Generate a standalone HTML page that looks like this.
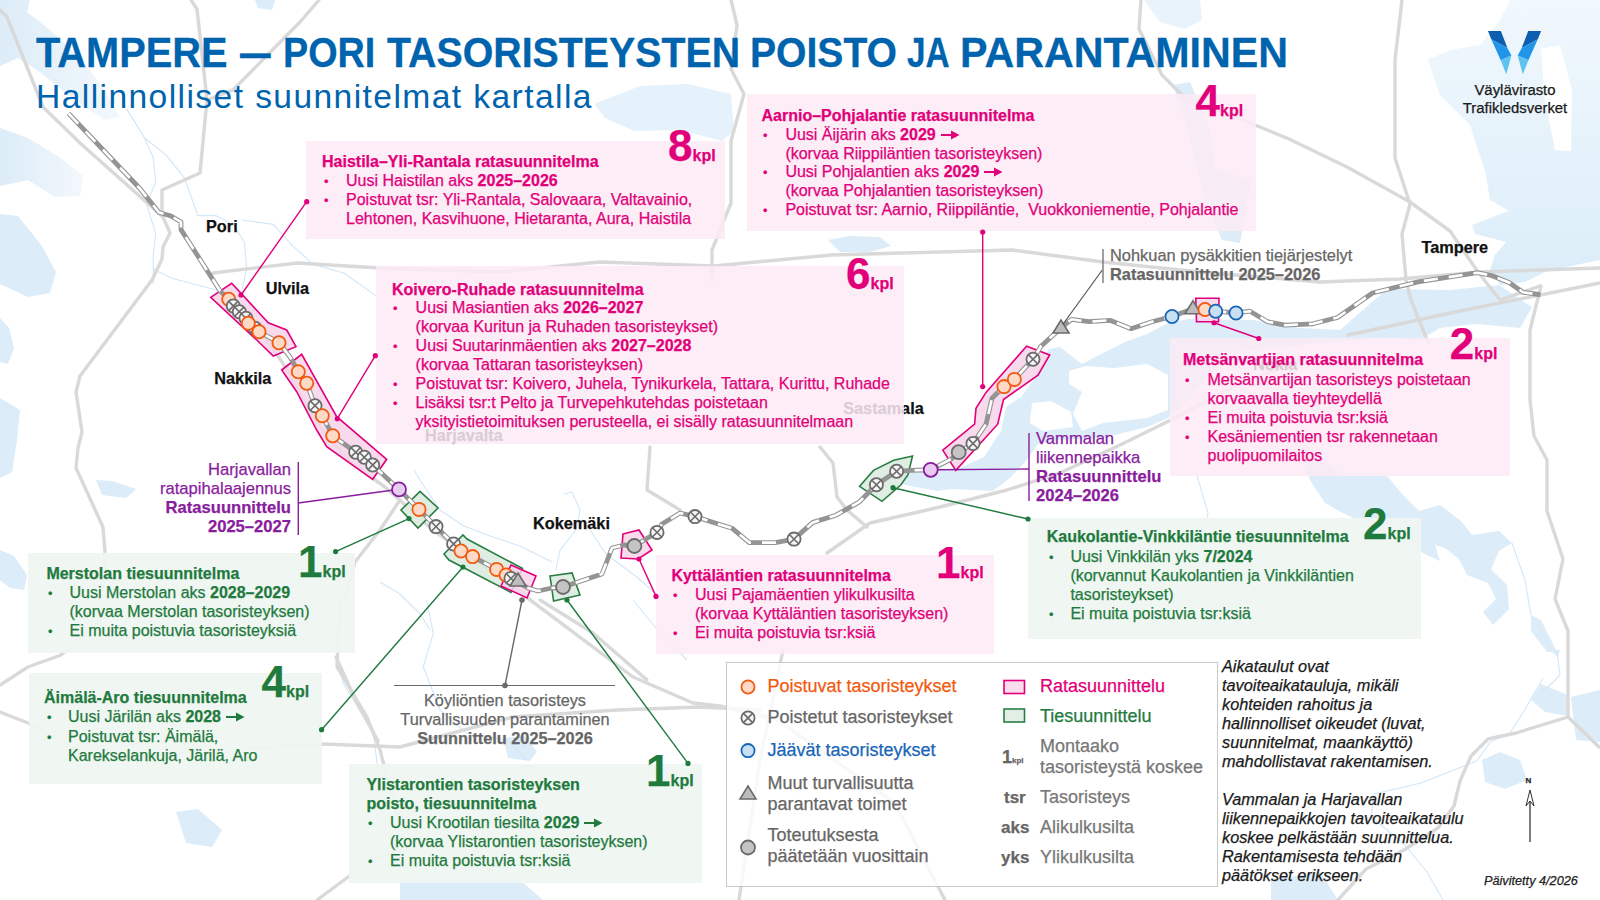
<!DOCTYPE html>
<html><head><meta charset="utf-8">
<style>
html,body{margin:0;padding:0;}
body{width:1600px;height:900px;position:relative;overflow:hidden;background:#fff;font-family:"Liberation Sans",sans-serif;}
svg.map{position:absolute;left:0;top:0;}
.t{position:absolute;white-space:nowrap;-webkit-text-stroke:0.25px currentColor;}
.box{position:absolute;}
.pk{background:rgba(251,234,245,0.86);}
.gr{background:rgba(239,245,241,0.93);}
b{font-weight:700;}
</style></head><body>
<svg class="map" width="1600" height="900" viewBox="0 0 1600 900">
<defs><linearGradient id="sea" x1="0" y1="0" x2="1" y2="0"><stop offset="0" stop-color="#dcecf8"/><stop offset="1" stop-color="#f3f8fc"/></linearGradient><linearGradient id="nasi" x1="0" y1="0" x2="0" y2="1"><stop offset="0" stop-color="#f1f8fd"/><stop offset="1" stop-color="#dbedf9"/></linearGradient></defs>
<path d="M0,0 L30,0 L27,12 L50,30 L80,58 L103,88 L120,117 L105,120 L72,98 L40,72 L18,58 L0,66 Z" fill="url(#sea)"/>
<path d="M0,128 L28,138 L58,156 L83,176 L80,196 L55,197 L28,180 L0,186 Z" fill="url(#sea)"/>
<path d="M0,214 L18,216 L42,246 L56,272 L50,293 L28,297 L0,284 Z" fill="#dcedf9"/>
<path d="M0,318 L9,328 L14,348 L8,364 L0,362 Z" fill="#dcedf9"/>
<path d="M0,398 L20,410 L17,440 L12,472 L0,478 Z" fill="#dcedf9"/>
<path d="M0,550 L14,556 L27,575 L24,590 L10,588 L0,580 Z" fill="#dcedf9"/>
<path d="M96,480 L112,481 L136,489 L126,498 L102,495 Z" fill="#dcedf9"/>
<path d="M255,0 L275,0 L272,10 L258,8 Z" fill="#dcedf9"/>
<path d="M594,104 L640,86 L688,84 L731,94 L734,131 L722,141 L680,130 L634,131 L605,118 Z" fill="#e6f2fb"/>
<path d="M828,240 L850,236 L880,237 L891,246 L870,252 L840,252 Z" fill="#dcedf9"/>
<path d="M1144,0 L1200,0 L1202,20 L1185,29 L1160,22 Z" fill="#e8f3fb"/>
<path d="M1173,85 L1190,82 L1198,101 L1210,130 L1215,170 L1235,175 L1251,180 L1245,215 L1240,243 L1222,240 L1205,200 L1195,160 L1185,120 Z" fill="#dcedf9"/>
<path d="M1430,58 L1440,60 L1450,80 L1446,87 L1434,75 Z" fill="#dcedf9"/>
<path d="M1510,0 L1600,0 L1600,260 L1547,271 L1525,282 L1500,285 L1490,270 L1495,255 L1506,242 L1475,234 L1472,225 L1498,215 L1509,211 L1490,200 L1485,170 L1481,159 L1470,125 L1440,95 L1428,60 L1450,50 L1480,45 L1500,20 Z" fill="url(#nasi)"/>
<path d="M1541,49 L1560,45 L1572,90 L1571,151 L1555,150 L1545,100 Z" fill="#ffffff"/>
<path d="M930,470 L956,470 L984,457 L1001,431 L1006,407 L1021,397 L1034,379 L1049,349 L1060,347 L1082,364 L1103,353 L1125,342 L1147,334 L1168,323 L1188,319 L1253,320 L1300,328 L1340,330 L1387,289 L1450,290 L1499,285 L1532,307 L1520,328 L1476,324 L1440,328 L1420,340 L1380,338 L1300,345 L1230,352 L1188,400 L1168,418 L1147,427 L1103,438 L1060,440 L1038,444 L1025,462 L1010,478 L993,491 L953,489 L937,491 L930,484 Z" fill="#dcedf9"/>
<path d="M898,470 L935,465 L937,491 L900,484 Z" fill="#dcedf9"/>
<path d="M1069,371 L1086,366 L1114,368 L1147,364 L1168,375 L1168,410 L1147,418 L1103,423 L1082,431 L1073,414 L1082,392 L1069,384 Z" fill="#ffffff"/>
<path d="M1032,403 L1051,401 L1071,412 L1073,427 L1043,431 L1030,423 Z" fill="#ffffff"/>
<path d="M1290,430 L1344,476 L1387,476 L1403,495 L1419,511 L1440,505 L1461,521 L1472,535 L1499,531 L1512,543 L1499,551 L1491,569 L1507,585 L1509,609 L1493,625 L1483,612 L1496,599 L1488,583 L1467,575 L1459,559 L1445,548 L1435,545 L1440,561 L1429,556 L1419,551 L1397,540 L1373,535 L1360,521 L1339,511 L1325,503 L1310,480 Z" fill="#dcedf9"/>
<path d="M1531,615 L1541,620 L1557,652 L1547,652 L1531,631 Z" fill="#dcedf9"/>
<path d="M1531,700 L1541,684 L1568,695 L1568,716 L1545,712 Z" fill="#dcedf9"/>
<path d="M1549,650 L1560,650 L1558,657 Z" fill="#dcedf9"/>
<path d="M1571,697 L1600,690 L1600,742 L1576,740 Z" fill="#dcedf9"/>
<path d="M1482,760 L1500,752 L1520,760 L1527,780 L1505,789 L1485,782 Z" fill="#dcedf9"/>
<path d="M1271,880 L1320,872 L1338,900 L1271,900 Z" fill="#dcedf9"/>
<path d="M400,880 L450,874 L520,880 L543,900 L400,900 Z" fill="#dcedf9"/>
<path d="M503,738 L525,736 L537,752 L530,761 L508,758 Z" fill="#dcedf9"/>
<path d="M176,812 L198,809 L222,830 L212,847 L186,843 Z" fill="#dcedf9"/>
<path d="M126.7,108.9 L144.4,137.8 L153.3,157.8 L155.6,182.2 L146.7,204.4 L155.6,233.3 L153.3,255.6 L153.3,284.4" fill="none" stroke="#d0e7f8" stroke-width="1.1" stroke-linejoin="round"/>
<path d="M144.4,137.8 L166.7,155.6 L184.4,177.8 L197.8,215.6 L215.6,215.6 L233.3,224.4 L244.4,242.2 L246.7,268.9 L242.2,288.9" fill="none" stroke="#d0e7f8" stroke-width="1.1" stroke-linejoin="round"/>
<path d="M242.2,220 L273.3,224.4 L291.1,244.4 L313.3,264.4 L344.4,273.3 L375.6,295.6" fill="none" stroke="#d0e7f8" stroke-width="1.1" stroke-linejoin="round"/>
<path d="M153,269 L171,278 L220,291" fill="none" stroke="#d0e7f8" stroke-width="1.1" stroke-linejoin="round"/>
<path d="M414,470 L420,480 L440,510 L464,526 L490,536 L520,546 L552,562" fill="none" stroke="#d0e7f8" stroke-width="1.1" stroke-linejoin="round"/>
<path d="M564,494 L572,492 L580,510 L576,530 L560,550 L556,570" fill="none" stroke="#d0e7f8" stroke-width="1.1" stroke-linejoin="round"/>
<path d="M590,530 L606,554 L638,578 L656,594" fill="none" stroke="#d0e7f8" stroke-width="1.1" stroke-linejoin="round"/>
<path d="M380,582 L400,594 L420,614 L430,630" fill="none" stroke="#d0e7f8" stroke-width="1.1" stroke-linejoin="round"/>
<path d="M426.7,600 L433.3,633.3 L423.3,666.7 L440,710 L466.7,733.3 L506.7,740 L526.7,760" fill="none" stroke="#d0e7f8" stroke-width="1.1" stroke-linejoin="round"/>
<path d="M336.7,656.7 L343.3,683.3 L373.3,733.3 L380,786.7 L366.7,833.3" fill="none" stroke="#d0e7f8" stroke-width="1.1" stroke-linejoin="round"/>
<path d="M633,600 L660,633 L687,660" fill="none" stroke="#d0e7f8" stroke-width="1.1" stroke-linejoin="round"/>
<path d="M1543,678 L1524,711 L1510,733 L1490.6,741.7 L1476.7,761 L1421,783 L1374,794 L1371,817 L1404,844 L1427,872 L1443,900" fill="none" stroke="#d0e7f8" stroke-width="1.1" stroke-linejoin="round"/>
<path d="M1196,472 L1208,513 L1202,553" fill="none" stroke="#d0e7f8" stroke-width="1.1" stroke-linejoin="round"/>
<path d="M1512,543 L1525,580 L1531,615" fill="none" stroke="#d0e7f8" stroke-width="1.1" stroke-linejoin="round"/>
<path d="M1557,652 L1560,675 L1545,690" fill="none" stroke="#d0e7f8" stroke-width="1.1" stroke-linejoin="round"/>
<path d="M0,10 L7,17 L43,107 L80,143 L163,217 L170,233 L163,247 L162,259 L152,280 L80,376 L76,392 L82,432 L78,448 L76,468 L103,527 L105,552 L100,620 L61,655 L28,667 L0,685" fill="none" stroke="#d9d9d9" stroke-width="3.4" stroke-linejoin="round" stroke-linecap="round"/>
<path d="M162,215 L162,190 L200,173 L207,100 L197,9 L191,0" fill="none" stroke="#d9d9d9" stroke-width="3.4" stroke-linejoin="round" stroke-linecap="round"/>
<path d="M319,0 L300,22 L233,90 L207,100" fill="none" stroke="#d9d9d9" stroke-width="3.4" stroke-linejoin="round" stroke-linecap="round"/>
<path d="M0,712 L28,723 L93,760 L200,751 L322,744 L400,747 L513,717 L617,710 L700,707 L760,710" fill="none" stroke="#d9d9d9" stroke-width="3.4" stroke-linejoin="round" stroke-linecap="round"/>
<path d="M340,600 L337,667 L367,717 L380,750 L393,800 L400,830" fill="none" stroke="#d9d9d9" stroke-width="3.4" stroke-linejoin="round" stroke-linecap="round"/>
<path d="M317,900 L367,863 L400,850" fill="none" stroke="#d9d9d9" stroke-width="3.4" stroke-linejoin="round" stroke-linecap="round"/>
<path d="M336,657 L355,699 L378,741" fill="none" stroke="#d9d9d9" stroke-width="3.4" stroke-linejoin="round" stroke-linecap="round"/>
<path d="M400,500 L380,530 L355,562 L345,600" fill="none" stroke="#d9d9d9" stroke-width="3.4" stroke-linejoin="round" stroke-linecap="round"/>
<path d="M213,273 L297,263 L380,268 L500,272 L600,262 L714,266 L831,255 L1012,250 L1103,262 L1200,272 L1320,282 L1400,279 L1480,272 L1600,268" fill="none" stroke="#d9d9d9" stroke-width="3.4" stroke-linejoin="round" stroke-linecap="round"/>
<path d="M712,280 L712,250 L731,203 L731,141 L744,94 L731,69 L737,25 L731,0" fill="none" stroke="#d9d9d9" stroke-width="3.4" stroke-linejoin="round" stroke-linecap="round"/>
<path d="M263,335 L282,362 L318,425 L350,462 L385,487 L433,530 L525,596 L633,677 L693,703 L720,706 L776,719 L895,803 L945,900" fill="none" stroke="#d9d9d9" stroke-width="3.4" stroke-linejoin="round" stroke-linecap="round"/>
<path d="M783,650 L760,760 L739,900" fill="none" stroke="#d9d9d9" stroke-width="3.4" stroke-linejoin="round" stroke-linecap="round"/>
<path d="M820,447 L833,463 L837,497 L847,510 L867,527" fill="none" stroke="#d9d9d9" stroke-width="3.4" stroke-linejoin="round" stroke-linecap="round"/>
<path d="M827,553 L870,523 L940,507 L1007,490 L1060,473 L1120,445 L1173,419 L1231,388 L1300,360" fill="none" stroke="#d9d9d9" stroke-width="3.4" stroke-linejoin="round" stroke-linecap="round"/>
<path d="M540,600 L593,633 L647,680" fill="none" stroke="#d9d9d9" stroke-width="3.4" stroke-linejoin="round" stroke-linecap="round"/>
<path d="M650,447 L647,490 L680,510" fill="none" stroke="#d9d9d9" stroke-width="3.4" stroke-linejoin="round" stroke-linecap="round"/>
<path d="M1141,0 L1139,29 L1162,75 L1185,98 L1231,115 L1289,139 L1347,167 L1410,202 L1450,231 L1478,272 L1500,300" fill="none" stroke="#d9d9d9" stroke-width="3.4" stroke-linejoin="round" stroke-linecap="round"/>
<path d="M1402,0 L1395,60 L1395,158 L1410,204 L1402,234 L1406,280 L1411,300 L1428,342" fill="none" stroke="#d9d9d9" stroke-width="3.4" stroke-linejoin="round" stroke-linecap="round"/>
<path d="M1348,335 L1460,311 L1600,283" fill="none" stroke="#d9d9d9" stroke-width="3.4" stroke-linejoin="round" stroke-linecap="round"/>
<path d="M1541,286 L1530,330 L1530,400 L1534,436 L1547,460 L1547,511 L1563,559 L1555,599 L1568,631 L1568,717 L1599,747" fill="none" stroke="#d9d9d9" stroke-width="3.4" stroke-linejoin="round" stroke-linecap="round"/>
<path d="M1568,717 L1516,733 L1488,739 L1471,756 L1460,781 L1454,806 L1438,828 L1404,850 L1366,869 L1338,900" fill="none" stroke="#d9d9d9" stroke-width="3.4" stroke-linejoin="round" stroke-linecap="round"/>
<path d="M1500,300 L1540,286" fill="none" stroke="#d9d9d9" stroke-width="3.4" stroke-linejoin="round" stroke-linecap="round"/>
<polygon points="401,510 420,491.4 438,508 418,528" fill="#dcebdf" fill-opacity="0.9" stroke="#2a7d43" stroke-width="1.6"/>
<polygon points="444,554 463,535 467,539 522.4,568.4 511,592.4 449,560" fill="#dcebdf" fill-opacity="0.9" stroke="#2a7d43" stroke-width="1.6"/>
<polygon points="550,576 572,573 580,595 553.6,601" fill="#dcebdf" fill-opacity="0.9" stroke="#2a7d43" stroke-width="1.6"/>
<polygon points="859.6,486.3 873.5,470.4 893.7,460.3 912.5,456 908,474.7 901,484.8 882,501.3" fill="#dcebdf" fill-opacity="0.9" stroke="#2a7d43" stroke-width="1.6"/>
<polygon points="210.7,297.3 231.7,283.3 268.3,322.7 286.7,330 296,346.7 273.3,356 256.7,340" fill="#f7d3ea" fill-opacity="0.85" stroke="#e2007a" stroke-width="1.6"/>
<polygon points="281.7,370 301.7,354.3 336.7,416.7 386.7,459.3 372.7,479.3 326.7,446.7 316.7,430 296.7,391.7" fill="#f7d3ea" fill-opacity="0.85" stroke="#e2007a" stroke-width="1.6"/>
<polygon points="511,565 536,576 527,598 501,586" fill="#f7d3ea" fill-opacity="0.85" stroke="#e2007a" stroke-width="1.6"/>
<polygon points="623,534 639,530 652,550 638,559 621,558" fill="#f7d3ea" fill-opacity="0.85" stroke="#e2007a" stroke-width="1.6"/>
<polygon points="942.8,450.2 974.6,424.2 976,408.3 986,392.4 1026.6,346.2 1049.7,354.9 1038,375.1 1003.5,399.6 997.7,424.2 955.8,470.4" fill="#f7d3ea" fill-opacity="0.85" stroke="#e2007a" stroke-width="1.6"/>
<polygon points="1195.8,298.3 1219,298.3 1218.5,321.7 1196.5,321.7" fill="#f7d3ea" fill-opacity="0.85" stroke="#e2007a" stroke-width="1.6"/>
<path d="M68.5,113.4 L139.4,188 L159,212.5 L171,216 L181,222 L181,229.6 L220,290.7 L228.7,299.3 L233.3,306 L239.3,311.7 L246,318.3 L255,328.3 L259,331.7 L279,342.7 L290,357 L298.3,371.7 L306.7,383.3 L315,405.7 L322.3,415.7 L332.7,435.7 L355.7,452.3 L364.3,457.3 L372.7,465 L399,489.4 L419,509.4 L436,526.6 L453.6,544 L461,551 L472.6,556.6 L496.6,569.4 L506,575 L511,578.4 L528,588 L538,591 L552,588 L563,587 L602,574 L612,548 L624,545 L634.4,546 L657,532.4 L662,524 L680,513 L695,516.6 L717.5,523.8 L732,528.2 L749.3,542.6 L775.3,542.6 L794,539.1 L812.9,522.4 L836,515.2 L859,502.2 L876.4,484.8 L896.6,471.3 L911,470.4 L930.7,469.8 L951.5,458.8 L958.7,452.2 L973,443.5 L986,424.2 L992,398.2 L1004,386.6 L1014.4,379.4 L1033,359.2 L1041,346.2 L1061,328 L1071.5,319.3 L1089,321.7 L1110,320.3 L1131,328.7 L1152,321.7 L1172,316.5 L1193,308.75 L1205,309.5 L1215.7,311.2 L1236,313 L1250,311.2 L1267.5,321.7 L1285,325.2 L1313,323.8 L1337.5,317.5 L1372.5,293 L1418,281.8 L1477.5,272.7 L1491.5,275.5 L1509,282.5 L1523,292.3 L1540.5,294.75" fill="none" stroke="#949494" stroke-width="4.8" stroke-linejoin="round"/>
<path d="M68.5,113.4 L139.4,188 L159,212.5 L171,216 L181,222 L181,229.6 L220,290.7 L228.7,299.3 L233.3,306 L239.3,311.7 L246,318.3 L255,328.3 L259,331.7 L279,342.7 L290,357 L298.3,371.7 L306.7,383.3 L315,405.7 L322.3,415.7 L332.7,435.7 L355.7,452.3 L364.3,457.3 L372.7,465 L399,489.4 L419,509.4 L436,526.6 L453.6,544 L461,551 L472.6,556.6 L496.6,569.4 L506,575 L511,578.4 L528,588 L538,591 L552,588 L563,587 L602,574 L612,548 L624,545 L634.4,546 L657,532.4 L662,524 L680,513 L695,516.6 L717.5,523.8 L732,528.2 L749.3,542.6 L775.3,542.6 L794,539.1 L812.9,522.4 L836,515.2 L859,502.2 L876.4,484.8 L896.6,471.3 L911,470.4 L930.7,469.8 L951.5,458.8 L958.7,452.2 L973,443.5 L986,424.2 L992,398.2 L1004,386.6 L1014.4,379.4 L1033,359.2 L1041,346.2 L1061,328 L1071.5,319.3 L1089,321.7 L1110,320.3 L1131,328.7 L1152,321.7 L1172,316.5 L1193,308.75 L1205,309.5 L1215.7,311.2 L1236,313 L1250,311.2 L1267.5,321.7 L1285,325.2 L1313,323.8 L1337.5,317.5 L1372.5,293 L1418,281.8 L1477.5,272.7 L1491.5,275.5 L1509,282.5 L1523,292.3 L1540.5,294.75" fill="none" stroke="#ffffff" stroke-width="2.6" stroke-dasharray="14 11" stroke-linejoin="round"/>
<circle cx="228.7" cy="299.3" r="6.6" fill="#fdd9c6" stroke="#f25a0f" stroke-width="1.8"/>
<circle cx="233.3" cy="306" r="6.6" fill="#f6f6f6" stroke="#6b6b6b" stroke-width="1.8"/>
<path d="M228.70000000000002,301.4 L237.9,310.6 M237.9,301.4 L228.70000000000002,310.6" stroke="#6b6b6b" stroke-width="1.6"/>
<circle cx="239.3" cy="311.7" r="6.6" fill="#f6f6f6" stroke="#6b6b6b" stroke-width="1.8"/>
<path d="M234.70000000000002,307.09999999999997 L243.9,316.3 M243.9,307.09999999999997 L234.70000000000002,316.3" stroke="#6b6b6b" stroke-width="1.6"/>
<circle cx="246" cy="318.3" r="6.6" fill="#f6f6f6" stroke="#6b6b6b" stroke-width="1.8"/>
<path d="M241.4,313.7 L250.6,322.90000000000003 M250.6,313.7 L241.4,322.90000000000003" stroke="#6b6b6b" stroke-width="1.6"/>
<circle cx="255" cy="328.3" r="6.6" fill="#f6f6f6" stroke="#6b6b6b" stroke-width="1.8"/>
<path d="M250.4,323.7 L259.6,332.90000000000003 M259.6,323.7 L250.4,332.90000000000003" stroke="#6b6b6b" stroke-width="1.6"/>
<circle cx="248.3" cy="323.3" r="6.6" fill="#fdd9c6" stroke="#f25a0f" stroke-width="1.8"/>
<circle cx="259" cy="331.7" r="6.6" fill="#fdd9c6" stroke="#f25a0f" stroke-width="1.8"/>
<circle cx="279" cy="342.7" r="6.6" fill="#fdd9c6" stroke="#f25a0f" stroke-width="1.8"/>
<circle cx="298.3" cy="371.7" r="6.6" fill="#fdd9c6" stroke="#f25a0f" stroke-width="1.8"/>
<circle cx="306.7" cy="383.3" r="6.6" fill="#fdd9c6" stroke="#f25a0f" stroke-width="1.8"/>
<circle cx="315" cy="405.7" r="6.6" fill="#f6f6f6" stroke="#6b6b6b" stroke-width="1.8"/>
<path d="M310.4,401.09999999999997 L319.6,410.3 M319.6,401.09999999999997 L310.4,410.3" stroke="#6b6b6b" stroke-width="1.6"/>
<circle cx="322.3" cy="415.7" r="6.6" fill="#fdd9c6" stroke="#f25a0f" stroke-width="1.8"/>
<circle cx="332.7" cy="435.7" r="6.6" fill="#fdd9c6" stroke="#f25a0f" stroke-width="1.8"/>
<circle cx="355.7" cy="452.3" r="6.6" fill="#f6f6f6" stroke="#6b6b6b" stroke-width="1.8"/>
<path d="M351.09999999999997,447.7 L360.3,456.90000000000003 M360.3,447.7 L351.09999999999997,456.90000000000003" stroke="#6b6b6b" stroke-width="1.6"/>
<circle cx="364.3" cy="457.3" r="6.6" fill="#f6f6f6" stroke="#6b6b6b" stroke-width="1.8"/>
<path d="M359.7,452.7 L368.90000000000003,461.90000000000003 M368.90000000000003,452.7 L359.7,461.90000000000003" stroke="#6b6b6b" stroke-width="1.6"/>
<circle cx="372.7" cy="465" r="6.6" fill="#f6f6f6" stroke="#6b6b6b" stroke-width="1.8"/>
<path d="M368.09999999999997,460.4 L377.3,469.6 M377.3,460.4 L368.09999999999997,469.6" stroke="#6b6b6b" stroke-width="1.6"/>
<circle cx="399" cy="489.4" r="7" fill="#e6cdf0" stroke="#8a1c9e" stroke-width="1.8"/>
<circle cx="419" cy="509.4" r="6.6" fill="#fdd9c6" stroke="#f25a0f" stroke-width="1.8"/>
<circle cx="436" cy="526.6" r="6.6" fill="#f6f6f6" stroke="#6b6b6b" stroke-width="1.8"/>
<path d="M431.4,522.0 L440.6,531.2 M440.6,522.0 L431.4,531.2" stroke="#6b6b6b" stroke-width="1.6"/>
<circle cx="453.6" cy="544" r="6.6" fill="#f6f6f6" stroke="#6b6b6b" stroke-width="1.8"/>
<path d="M449.0,539.4 L458.20000000000005,548.6 M458.20000000000005,539.4 L449.0,548.6" stroke="#6b6b6b" stroke-width="1.6"/>
<circle cx="461" cy="551" r="6.6" fill="#fdd9c6" stroke="#f25a0f" stroke-width="1.8"/>
<circle cx="472.6" cy="556.6" r="6.6" fill="#fdd9c6" stroke="#f25a0f" stroke-width="1.8"/>
<circle cx="496.6" cy="569.4" r="6.6" fill="#fdd9c6" stroke="#f25a0f" stroke-width="1.8"/>
<circle cx="506" cy="575" r="6.6" fill="#fdd9c6" stroke="#f25a0f" stroke-width="1.8"/>
<circle cx="511" cy="578.4" r="6.6" fill="#f6f6f6" stroke="#6b6b6b" stroke-width="1.8"/>
<path d="M506.4,573.8 L515.6,583.0 M515.6,573.8 L506.4,583.0" stroke="#6b6b6b" stroke-width="1.6"/>
<polygon points="518,573 526,586 510,586" fill="#bdbdbd" stroke="#6b6b6b" stroke-width="1.6"/>
<circle cx="563" cy="587" r="7" fill="#c4c4c4" stroke="#6b6b6b" stroke-width="1.8"/>
<circle cx="634.4" cy="546" r="7" fill="#c4c4c4" stroke="#6b6b6b" stroke-width="1.8"/>
<circle cx="657" cy="532.4" r="6.6" fill="#f6f6f6" stroke="#6b6b6b" stroke-width="1.8"/>
<path d="M652.4,527.8 L661.6,537.0 M661.6,527.8 L652.4,537.0" stroke="#6b6b6b" stroke-width="1.6"/>
<circle cx="695" cy="516.6" r="6.6" fill="#f6f6f6" stroke="#6b6b6b" stroke-width="1.8"/>
<path d="M690.4,512.0 L699.6,521.2 M699.6,512.0 L690.4,521.2" stroke="#6b6b6b" stroke-width="1.6"/>
<circle cx="794" cy="539.1" r="6.6" fill="#f6f6f6" stroke="#6b6b6b" stroke-width="1.8"/>
<path d="M789.4,534.5 L798.6,543.7 M798.6,534.5 L789.4,543.7" stroke="#6b6b6b" stroke-width="1.6"/>
<circle cx="876.4" cy="484.8" r="6.6" fill="#f6f6f6" stroke="#6b6b6b" stroke-width="1.8"/>
<path d="M871.8,480.2 L881.0,489.40000000000003 M881.0,480.2 L871.8,489.40000000000003" stroke="#6b6b6b" stroke-width="1.6"/>
<circle cx="896.6" cy="471.3" r="6.6" fill="#f6f6f6" stroke="#6b6b6b" stroke-width="1.8"/>
<path d="M892.0,466.7 L901.2,475.90000000000003 M901.2,466.7 L892.0,475.90000000000003" stroke="#6b6b6b" stroke-width="1.6"/>
<circle cx="930.7" cy="469.8" r="7" fill="#e6cdf0" stroke="#8a1c9e" stroke-width="1.8"/>
<circle cx="958.7" cy="452.2" r="7" fill="#c4c4c4" stroke="#6b6b6b" stroke-width="1.8"/>
<circle cx="973" cy="443.5" r="6.6" fill="#f6f6f6" stroke="#6b6b6b" stroke-width="1.8"/>
<path d="M968.4,438.9 L977.6,448.1 M977.6,438.9 L968.4,448.1" stroke="#6b6b6b" stroke-width="1.6"/>
<circle cx="1004" cy="386.6" r="6.6" fill="#fdd9c6" stroke="#f25a0f" stroke-width="1.8"/>
<circle cx="1014.4" cy="379.4" r="6.6" fill="#fdd9c6" stroke="#f25a0f" stroke-width="1.8"/>
<circle cx="1033" cy="359.2" r="6.6" fill="#f6f6f6" stroke="#6b6b6b" stroke-width="1.8"/>
<path d="M1028.4,354.59999999999997 L1037.6,363.8 M1037.6,354.59999999999997 L1028.4,363.8" stroke="#6b6b6b" stroke-width="1.6"/>
<polygon points="1061,320 1069,333 1053,333" fill="#bdbdbd" stroke="#6b6b6b" stroke-width="1.6"/>
<circle cx="1172" cy="316.5" r="6.6" fill="#c9dff2" stroke="#1766b8" stroke-width="1.8"/>
<polygon points="1193,300.75 1201,313.75 1185,313.75" fill="#bdbdbd" stroke="#6b6b6b" stroke-width="1.6"/>
<circle cx="1205" cy="309.5" r="6.6" fill="#fdd9c6" stroke="#f25a0f" stroke-width="1.8"/>
<circle cx="1215.7" cy="311.2" r="6.6" fill="#c9dff2" stroke="#1766b8" stroke-width="1.8"/>
<circle cx="1236" cy="313" r="6.6" fill="#c9dff2" stroke="#1766b8" stroke-width="1.8"/>
</svg>
<div class="t" style="left:843.2px;top:398.83px;font-size:16.3px;line-height:19.56px;font-weight:700;color:#111;">Sastamala</div>
<div class="t" style="left:425px;top:425.83px;font-size:16.3px;line-height:19.56px;font-weight:700;color:#111;">Harjavalta</div>
<div class="t" style="left:1253px;top:354.83px;font-size:16.3px;line-height:19.56px;font-weight:700;color:#111;">Nokia</div>
<div class="box pk" style="left:306px;top:141px;width:419px;height:98px"></div>
<div class="box pk" style="left:747px;top:94px;width:509px;height:137px"></div>
<div class="box pk" style="left:376px;top:266px;width:528px;height:178px"></div>
<div class="box pk" style="left:1170px;top:338px;width:340px;height:138px"></div>
<div class="box pk" style="left:656px;top:555px;width:338px;height:99px"></div>
<div class="box gr" style="left:1028px;top:518px;width:393px;height:121px"></div>
<div class="box gr" style="left:27.5px;top:552.5px;width:327.5px;height:100.5px"></div>
<div class="box gr" style="left:29px;top:673.4px;width:293.4px;height:111.0px"></div>
<div class="box gr" style="left:349px;top:764px;width:353px;height:119px"></div>
<div class="box" style="left:726px;top:661.5px;width:490px;height:223px;border:1px solid #c8c8c8;background:rgba(255,255,255,0.8)"></div>
<svg class="map" width="1600" height="900" viewBox="0 0 1600 900">
<line x1="306.7" y1="201.7" x2="241" y2="295" stroke="#e2007a" stroke-width="1.4"/>
<circle cx="306.7" cy="201.7" r="2.6" fill="#e2007a"/>
<circle cx="241" cy="295" r="2.6" fill="#e2007a"/>
<line x1="375.3" y1="355.7" x2="337.3" y2="418.7" stroke="#e2007a" stroke-width="1.4"/>
<circle cx="375.3" cy="355.7" r="2.6" fill="#e2007a"/>
<circle cx="337.3" cy="418.7" r="2.6" fill="#e2007a"/>
<line x1="982.7" y1="232" x2="982.7" y2="386.6" stroke="#e2007a" stroke-width="1.4"/>
<circle cx="982.7" cy="232" r="2.6" fill="#e2007a"/>
<circle cx="982.7" cy="386.6" r="2.6" fill="#e2007a"/>
<line x1="1214" y1="322.75" x2="1258.75" y2="338.5" stroke="#e2007a" stroke-width="1.4"/>
<circle cx="1214" cy="322.75" r="2.6" fill="#e2007a"/>
<circle cx="1258.75" cy="338.5" r="2.6" fill="#e2007a"/>
<line x1="639" y1="559" x2="656" y2="596.4" stroke="#e2007a" stroke-width="1.4"/>
<circle cx="639" cy="559" r="2.6" fill="#e2007a"/>
<circle cx="656" cy="596.4" r="2.6" fill="#e2007a"/>
<line x1="409" y1="518.6" x2="335.6" y2="551.6" stroke="#1f7a3e" stroke-width="1.4"/>
<circle cx="409" cy="518.6" r="2.6" fill="#1f7a3e"/>
<circle cx="335.6" cy="551.6" r="2.6" fill="#1f7a3e"/>
<line x1="463" y1="567" x2="321.6" y2="729.7" stroke="#1f7a3e" stroke-width="1.4"/>
<circle cx="463" cy="567" r="2.6" fill="#1f7a3e"/>
<circle cx="321.6" cy="729.7" r="2.6" fill="#1f7a3e"/>
<line x1="567" y1="600" x2="688" y2="763.4" stroke="#1f7a3e" stroke-width="1.4"/>
<circle cx="567" cy="600" r="2.6" fill="#1f7a3e"/>
<circle cx="688" cy="763.4" r="2.6" fill="#1f7a3e"/>
<line x1="893" y1="487.7" x2="1028" y2="519" stroke="#1f7a3e" stroke-width="1.4"/>
<circle cx="893" cy="487.7" r="2.6" fill="#1f7a3e"/>
<circle cx="1028" cy="519" r="2.6" fill="#1f7a3e"/>
<line x1="522" y1="600" x2="505" y2="685.5" stroke="#6a6a6a" stroke-width="1.4"/>
<circle cx="522" cy="600" r="2.8" fill="#6a6a6a"/><circle cx="505" cy="685.5" r="2.8" fill="#6a6a6a"/>
<line x1="394" y1="685.5" x2="615" y2="685.5" stroke="#6a6a6a" stroke-width="1.2"/>
<line x1="1062.75" y1="324.5" x2="1102.3" y2="270" stroke="#555" stroke-width="1.2"/>
<line x1="1103" y1="249" x2="1103" y2="283" stroke="#777" stroke-width="1.4"/>
<line x1="298.3" y1="462" x2="298.3" y2="535" stroke="#8a1c9e" stroke-width="1.4"/>
<line x1="298.3" y1="503" x2="392" y2="490.3" stroke="#8a1c9e" stroke-width="1.4"/>
<line x1="1029" y1="433" x2="1029" y2="501" stroke="#8a1c9e" stroke-width="1.4"/>
<line x1="1029" y1="469" x2="937.7" y2="469.8" stroke="#8a1c9e" stroke-width="1.4"/>
<circle cx="748" cy="687" r="6.6" fill="#fdd9c6" stroke="#f25a0f" stroke-width="1.8"/>
<circle cx="748" cy="718" r="6.6" fill="#f6f6f6" stroke="#6b6b6b" stroke-width="1.8"/>
<path d="M743.4,713.4 L752.6,722.6 M752.6,713.4 L743.4,722.6" stroke="#6b6b6b" stroke-width="1.6"/>
<circle cx="748" cy="750.6" r="6.6" fill="#c9dff2" stroke="#1766b8" stroke-width="1.8"/>
<polygon points="748,786 756,799 740,799" fill="#bdbdbd" stroke="#6b6b6b" stroke-width="1.6"/>
<circle cx="748" cy="847.5" r="7" fill="#c4c4c4" stroke="#6b6b6b" stroke-width="1.8"/>
<rect x="1004" y="680.5" width="20.5" height="13" fill="#f9dcee" stroke="#e2007a" stroke-width="1.6"/>
<rect x="1004" y="709" width="20.5" height="13" fill="#e3efe6" stroke="#2a7d43" stroke-width="1.6"/>
<line x1="1530" y1="792" x2="1530" y2="842" stroke="#444" stroke-width="1.4"/>
<path d="M1530,790 L1534,806 L1530,801 L1526,806 Z" fill="#fff" stroke="#333" stroke-width="1"/>
<polygon points="1488.0,31.1 1500.9,31.1 1507.4,48.0 1491.3,39.3" fill="#0d5eaf"/>
<polygon points="1491.3,39.3 1507.4,48.0 1511.4,55.6 1500.7,60.3" fill="#2196e8"/>
<polygon points="1500.7,60.3 1511.4,55.6 1506.3,74.3" fill="#5ec3ee"/>
<polygon points="1541.1,31.1 1528.2,31.1 1521.7,48.0 1537.8,39.3" fill="#0d5eaf"/>
<polygon points="1537.8,39.3 1521.7,48.0 1517.7,55.6 1528.4,60.3" fill="#2196e8"/>
<polygon points="1528.4,60.3 1517.7,55.6 1522.8,74.3" fill="#5ec3ee"/>
</svg>
<div class="t" style="left:322px;top:152.11px;font-size:16px;line-height:19.20px;font-weight:700;color:#e2007a;">Haistila–Yli-Rantala ratasuunnitelma</div>
<div class="t" style="left:324px;top:174.09px;font-size:12.8px;line-height:15.36px;font-weight:400;color:#e2007a;">•</div>
<div class="t" style="left:346px;top:171.11px;font-size:16px;line-height:19.20px;font-weight:400;color:#e2007a;">Uusi Haistilan aks <b>2025–2026</b></div>
<div class="t" style="left:324px;top:193.09px;font-size:12.8px;line-height:15.36px;font-weight:400;color:#e2007a;">•</div>
<div class="t" style="left:346px;top:190.11px;font-size:16px;line-height:19.20px;font-weight:400;color:#e2007a;">Poistuvat tsr: Yli-Rantala, Salovaara, Valtavainio,</div>
<div class="t" style="left:346px;top:209.11px;font-size:16px;line-height:19.20px;font-weight:400;color:#e2007a;">Lehtonen, Kasvihuone, Hietaranta, Aura, Haistila</div>
<div class="t" style="left:668px;top:120.06px;font-size:44px;line-height:52.80px;font-weight:700;color:#e2007a;letter-spacing:0;">8<span style="font-size:16px;letter-spacing:0">kpl</span></div>
<div class="t" style="left:761.5px;top:105.51px;font-size:16px;line-height:19.20px;font-weight:700;color:#e2007a;">Aarnio–Pohjalantie ratasuunnitelma</div>
<div class="t" style="left:763px;top:127.69px;font-size:12.8px;line-height:15.36px;font-weight:400;color:#e2007a;">•</div>
<div class="t" style="left:785.4px;top:124.71px;font-size:16px;line-height:19.20px;font-weight:400;color:#e2007a;">Uusi Äijärin aks <b>2029</b><svg width="19" height="10" viewBox="0 0 19 10" style="vertical-align:0px;margin-left:5px"><path d="M0,5 L13,5" stroke="currentColor" stroke-width="2"/><path d="M10,0.5 L18.5,5 L10,9.5 Z" fill="currentColor"/></svg></div>
<div class="t" style="left:785.4px;top:143.61px;font-size:16px;line-height:19.20px;font-weight:400;color:#e2007a;">(korvaa Riippiläntien tasoristeyksen)</div>
<div class="t" style="left:763px;top:165.29px;font-size:12.8px;line-height:15.36px;font-weight:400;color:#e2007a;">•</div>
<div class="t" style="left:785.4px;top:162.31px;font-size:16px;line-height:19.20px;font-weight:400;color:#e2007a;">Uusi Pohjalantien aks <b>2029</b><svg width="19" height="10" viewBox="0 0 19 10" style="vertical-align:0px;margin-left:5px"><path d="M0,5 L13,5" stroke="currentColor" stroke-width="2"/><path d="M10,0.5 L18.5,5 L10,9.5 Z" fill="currentColor"/></svg></div>
<div class="t" style="left:785.4px;top:181.11px;font-size:16px;line-height:19.20px;font-weight:400;color:#e2007a;">(korvaa Pohjalantien tasoristeyksen)</div>
<div class="t" style="left:763px;top:202.59px;font-size:12.8px;line-height:15.36px;font-weight:400;color:#e2007a;">•</div>
<div class="t" style="left:785.4px;top:199.61px;font-size:16px;line-height:19.20px;font-weight:400;color:#e2007a;">Poistuvat tsr: Aarnio, Riippiläntie,&nbsp; Vuokkoniementie, Pohjalantie</div>
<div class="t" style="left:1195.5px;top:74.86px;font-size:44px;line-height:52.80px;font-weight:700;color:#e2007a;letter-spacing:0;">4<span style="font-size:16px;letter-spacing:0">kpl</span></div>
<div class="t" style="left:392px;top:279.61px;font-size:16px;line-height:19.20px;font-weight:700;color:#e2007a;">Koivero-Ruhade ratasuunnitelma</div>
<div class="t" style="left:393px;top:301.09px;font-size:12.8px;line-height:15.36px;font-weight:400;color:#e2007a;">•</div>
<div class="t" style="left:415.6px;top:298.11px;font-size:16px;line-height:19.20px;font-weight:400;color:#e2007a;">Uusi Masiantien aks <b>2026–2027</b></div>
<div class="t" style="left:415.6px;top:317.11px;font-size:16px;line-height:19.20px;font-weight:400;color:#e2007a;">(korvaa Kuritun ja Ruhaden tasoristeykset)</div>
<div class="t" style="left:393px;top:339.09px;font-size:12.8px;line-height:15.36px;font-weight:400;color:#e2007a;">•</div>
<div class="t" style="left:415.6px;top:336.11px;font-size:16px;line-height:19.20px;font-weight:400;color:#e2007a;">Uusi Suutarinmäentien aks <b>2027–2028</b></div>
<div class="t" style="left:415.6px;top:355.11px;font-size:16px;line-height:19.20px;font-weight:400;color:#e2007a;">(korvaa Tattaran tasoristeyksen)</div>
<div class="t" style="left:393px;top:377.09px;font-size:12.8px;line-height:15.36px;font-weight:400;color:#e2007a;">•</div>
<div class="t" style="left:415.6px;top:374.11px;font-size:16px;line-height:19.20px;font-weight:400;color:#e2007a;">Poistuvat tsr: Koivero, Juhela, Tynikurkela, Tattara, Kurittu, Ruhade</div>
<div class="t" style="left:393px;top:396.09px;font-size:12.8px;line-height:15.36px;font-weight:400;color:#e2007a;">•</div>
<div class="t" style="left:415.6px;top:393.11px;font-size:16px;line-height:19.20px;font-weight:400;color:#e2007a;">Lisäksi tsr:t Pelto ja Turvepehkutehdas poistetaan</div>
<div class="t" style="left:415.6px;top:411.61px;font-size:16px;line-height:19.20px;font-weight:400;color:#e2007a;">yksityistietoimituksen perusteella, ei sisälly ratasuunnitelmaan</div>
<div class="t" style="left:846px;top:247.86px;font-size:44px;line-height:52.80px;font-weight:700;color:#e2007a;letter-spacing:0;">6<span style="font-size:16px;letter-spacing:0">kpl</span></div>
<div class="t" style="left:1183px;top:350.11px;font-size:16px;line-height:19.20px;font-weight:700;color:#e2007a;">Metsänvartijan ratasuunnitelma</div>
<div class="t" style="left:1185px;top:372.69px;font-size:12.8px;line-height:15.36px;font-weight:400;color:#e2007a;">•</div>
<div class="t" style="left:1207.5px;top:369.71px;font-size:16px;line-height:19.20px;font-weight:400;color:#e2007a;">Metsänvartijan tasoristeys poistetaan</div>
<div class="t" style="left:1207.5px;top:388.71px;font-size:16px;line-height:19.20px;font-weight:400;color:#e2007a;">korvaavalla tieyhteydellä</div>
<div class="t" style="left:1185px;top:410.69px;font-size:12.8px;line-height:15.36px;font-weight:400;color:#e2007a;">•</div>
<div class="t" style="left:1207.5px;top:407.71px;font-size:16px;line-height:19.20px;font-weight:400;color:#e2007a;">Ei muita poistuvia tsr:ksiä</div>
<div class="t" style="left:1185px;top:429.59px;font-size:12.8px;line-height:15.36px;font-weight:400;color:#e2007a;">•</div>
<div class="t" style="left:1207.5px;top:426.61px;font-size:16px;line-height:19.20px;font-weight:400;color:#e2007a;">Kesäniementien tsr rakennetaan</div>
<div class="t" style="left:1207.5px;top:445.61px;font-size:16px;line-height:19.20px;font-weight:400;color:#e2007a;">puolipuomilaitos</div>
<div class="t" style="left:1449.8px;top:318.06px;font-size:44px;line-height:52.80px;font-weight:700;color:#e2007a;letter-spacing:0;">2<span style="font-size:16px;letter-spacing:0">kpl</span></div>
<div class="t" style="left:671.4px;top:565.71px;font-size:16px;line-height:19.20px;font-weight:700;color:#e2007a;">Kyttäläntien ratasuunnitelma</div>
<div class="t" style="left:673px;top:587.69px;font-size:12.8px;line-height:15.36px;font-weight:400;color:#e2007a;">•</div>
<div class="t" style="left:695px;top:584.71px;font-size:16px;line-height:19.20px;font-weight:400;color:#e2007a;">Uusi Pajamäentien ylikulkusilta</div>
<div class="t" style="left:695px;top:603.71px;font-size:16px;line-height:19.20px;font-weight:400;color:#e2007a;">(korvaa Kyttäläntien tasoristeyksen)</div>
<div class="t" style="left:673px;top:625.69px;font-size:12.8px;line-height:15.36px;font-weight:400;color:#e2007a;">•</div>
<div class="t" style="left:695px;top:622.71px;font-size:16px;line-height:19.20px;font-weight:400;color:#e2007a;">Ei muita poistuvia tsr:ksiä</div>
<div class="t" style="left:936px;top:536.56px;font-size:44px;line-height:52.80px;font-weight:700;color:#e2007a;letter-spacing:0;">1<span style="font-size:16px;letter-spacing:0">kpl</span></div>
<div class="t" style="left:1046.7px;top:527.11px;font-size:16px;line-height:19.20px;font-weight:700;color:#1f7a3e;">Kaukolantie-Vinkkiläntie tiesuunnitelma</div>
<div class="t" style="left:1049px;top:549.79px;font-size:12.8px;line-height:15.36px;font-weight:400;color:#1f7a3e;">•</div>
<div class="t" style="left:1070.4px;top:546.81px;font-size:16px;line-height:19.20px;font-weight:400;color:#1f7a3e;">Uusi Vinkkilän yks <b>7/2024</b></div>
<div class="t" style="left:1070.4px;top:565.71px;font-size:16px;line-height:19.20px;font-weight:400;color:#1f7a3e;">(korvannut Kaukolantien ja Vinkkiläntien</div>
<div class="t" style="left:1070.4px;top:584.91px;font-size:16px;line-height:19.20px;font-weight:400;color:#1f7a3e;">tasoristeykset)</div>
<div class="t" style="left:1049px;top:606.79px;font-size:12.8px;line-height:15.36px;font-weight:400;color:#1f7a3e;">•</div>
<div class="t" style="left:1070.4px;top:603.81px;font-size:16px;line-height:19.20px;font-weight:400;color:#1f7a3e;">Ei muita poistuvia tsr:ksiä</div>
<div class="t" style="left:1363px;top:498.46px;font-size:44px;line-height:52.80px;font-weight:700;color:#1f7a3e;letter-spacing:0;">2<span style="font-size:16px;letter-spacing:0">kpl</span></div>
<div class="t" style="left:46.4px;top:563.71px;font-size:16px;line-height:19.20px;font-weight:700;color:#1f7a3e;">Merstolan tiesuunnitelma</div>
<div class="t" style="left:48px;top:585.59px;font-size:12.8px;line-height:15.36px;font-weight:400;color:#1f7a3e;">•</div>
<div class="t" style="left:69.5px;top:582.61px;font-size:16px;line-height:19.20px;font-weight:400;color:#1f7a3e;">Uusi Merstolan aks <b>2028–2029</b></div>
<div class="t" style="left:69.5px;top:602.11px;font-size:16px;line-height:19.20px;font-weight:400;color:#1f7a3e;">(korvaa Merstolan tasoristeyksen)</div>
<div class="t" style="left:48px;top:623.89px;font-size:12.8px;line-height:15.36px;font-weight:400;color:#1f7a3e;">•</div>
<div class="t" style="left:69.5px;top:620.91px;font-size:16px;line-height:19.20px;font-weight:400;color:#1f7a3e;">Ei muita poistuvia tasoristeyksiä</div>
<div class="t" style="left:298px;top:535.56px;font-size:44px;line-height:52.80px;font-weight:700;color:#1f7a3e;letter-spacing:0;">1<span style="font-size:16px;letter-spacing:0">kpl</span></div>
<div class="t" style="left:44px;top:687.61px;font-size:16px;line-height:19.20px;font-weight:700;color:#1f7a3e;">Äimälä-Aro tiesuunnitelma</div>
<div class="t" style="left:47px;top:710.09px;font-size:12.8px;line-height:15.36px;font-weight:400;color:#1f7a3e;">•</div>
<div class="t" style="left:68px;top:707.11px;font-size:16px;line-height:19.20px;font-weight:400;color:#1f7a3e;">Uusi Järilän aks <b>2028</b><svg width="19" height="10" viewBox="0 0 19 10" style="vertical-align:0px;margin-left:5px"><path d="M0,5 L13,5" stroke="currentColor" stroke-width="2"/><path d="M10,0.5 L18.5,5 L10,9.5 Z" fill="currentColor"/></svg></div>
<div class="t" style="left:47px;top:729.59px;font-size:12.8px;line-height:15.36px;font-weight:400;color:#1f7a3e;">•</div>
<div class="t" style="left:68px;top:726.61px;font-size:16px;line-height:19.20px;font-weight:400;color:#1f7a3e;">Poistuvat tsr: Äimälä,</div>
<div class="t" style="left:68px;top:745.51px;font-size:16px;line-height:19.20px;font-weight:400;color:#1f7a3e;">Karekselankuja, Järilä, Aro</div>
<div class="t" style="left:261.5px;top:655.56px;font-size:44px;line-height:52.80px;font-weight:700;color:#1f7a3e;letter-spacing:0;">4<span style="font-size:16px;letter-spacing:0">kpl</span></div>
<div class="t" style="left:366.4px;top:775.11px;font-size:16px;line-height:19.20px;font-weight:700;color:#1f7a3e;">Ylistarontien tasoristeyksen</div>
<div class="t" style="left:366.4px;top:793.91px;font-size:16px;line-height:19.20px;font-weight:700;color:#1f7a3e;">poisto, tiesuunnitelma</div>
<div class="t" style="left:368px;top:816.09px;font-size:12.8px;line-height:15.36px;font-weight:400;color:#1f7a3e;">•</div>
<div class="t" style="left:390px;top:813.11px;font-size:16px;line-height:19.20px;font-weight:400;color:#1f7a3e;">Uusi Krootilan tiesilta <b>2029</b><svg width="19" height="10" viewBox="0 0 19 10" style="vertical-align:0px;margin-left:5px"><path d="M0,5 L13,5" stroke="currentColor" stroke-width="2"/><path d="M10,0.5 L18.5,5 L10,9.5 Z" fill="currentColor"/></svg></div>
<div class="t" style="left:390px;top:832.31px;font-size:16px;line-height:19.20px;font-weight:400;color:#1f7a3e;">(korvaa Ylistarontien tasoristeyksen)</div>
<div class="t" style="left:368px;top:854.09px;font-size:12.8px;line-height:15.36px;font-weight:400;color:#1f7a3e;">•</div>
<div class="t" style="left:390px;top:851.11px;font-size:16px;line-height:19.20px;font-weight:400;color:#1f7a3e;">Ei muita poistuvia tsr:ksiä</div>
<div class="t" style="left:646px;top:745.06px;font-size:44px;line-height:52.80px;font-weight:700;color:#1f7a3e;letter-spacing:0;">1<span style="font-size:16px;letter-spacing:0">kpl</span></div>
<div class="t" style="left:206px;top:216.53px;font-size:16.3px;line-height:19.56px;font-weight:700;color:#111;">Pori</div>
<div class="t" style="left:265.7px;top:278.83px;font-size:16.3px;line-height:19.56px;font-weight:700;color:#111;">Ulvila</div>
<div class="t" style="left:214.3px;top:368.83px;font-size:16.3px;line-height:19.56px;font-weight:700;color:#111;">Nakkila</div>
<div class="t" style="left:533px;top:513.83px;font-size:16.3px;line-height:19.56px;font-weight:700;color:#111;">Kokemäki</div>
<div class="t" style="left:1421.5px;top:237.58px;font-size:16.3px;line-height:19.56px;font-weight:700;color:#111;">Tampere</div>
<div class="t" style="right:1309px;top:459.5px;text-align:right;font-size:16.6px;line-height:19px;color:#8a1c9e">Harjavallan<br>ratapihalaajennus<br><b>Ratasuunnittelu</b><br><b>2025–2027</b></div>
<div class="t" style="left:1036px;top:428.5px;font-size:16.6px;line-height:19px;color:#8a1c9e">Vammalan<br>liikennepaikka<br><b>Ratasuunnittelu</b><br><b>2024–2026</b></div>
<div class="t" style="left:1110px;top:246.24px;font-size:16.4px;line-height:19.68px;font-weight:400;color:#666;">Nohkuan pysäkkitien tiejärjestelyt</div>
<div class="t" style="left:1110px;top:264.74px;font-size:16.4px;line-height:19.68px;font-weight:400;color:#666;"><b>Ratasuunnittelu 2025–2026</b></div>
<div class="t" style="left:385px;top:691px;width:240px;text-align:center;font-size:16.3px;line-height:19px;color:#666">Köyliöntien tasoristeys<br>Turvallisuuden parantaminen<br><b>Suunnittelu 2025–2026</b></div>
<div class="t" style="left:1444px;top:80.5px;width:142px;text-align:center;font-size:14.9px;line-height:18px;color:#1a1a1a;">Väylävirasto<br>Trafikledsverket</div>
<div class="t" style="left:767.5px;top:675.75px;font-size:18px;line-height:21.60px;font-weight:400;color:#f25a0f;">Poistuvat tasoristeykset</div>
<div class="t" style="left:767.5px;top:707.25px;font-size:18px;line-height:21.60px;font-weight:400;color:#666;">Poistetut tasoristeykset</div>
<div class="t" style="left:767.5px;top:739.75px;font-size:18px;line-height:21.60px;font-weight:400;color:#1766b8;">Jäävät tasoristeykset</div>
<div class="t" style="left:767.5px;top:772.75px;font-size:18px;line-height:21.60px;font-weight:400;color:#666;">Muut turvallisuutta</div>
<div class="t" style="left:767.5px;top:793.75px;font-size:18px;line-height:21.60px;font-weight:400;color:#666;">parantavat toimet</div>
<div class="t" style="left:767.5px;top:825.25px;font-size:18px;line-height:21.60px;font-weight:400;color:#666;">Toteutuksesta</div>
<div class="t" style="left:767.5px;top:846.25px;font-size:18px;line-height:21.60px;font-weight:400;color:#666;">päätetään vuosittain</div>
<div class="t" style="left:1040px;top:675.75px;font-size:18px;line-height:21.60px;font-weight:400;color:#e2007a;">Ratasuunnittelu</div>
<div class="t" style="left:1040px;top:705.75px;font-size:18px;line-height:21.60px;font-weight:400;color:#1f7a3e;">Tiesuunnittelu</div>
<div class="t" style="left:1040px;top:736.25px;font-size:18px;line-height:21.60px;font-weight:400;color:#777;">Montaako</div>
<div class="t" style="left:1040px;top:757.25px;font-size:18px;line-height:21.60px;font-weight:400;color:#777;">tasoristeystä koskee</div>
<div class="t" style="left:1040px;top:787.25px;font-size:18px;line-height:21.60px;font-weight:400;color:#777;">Tasoristeys</div>
<div class="t" style="left:1040px;top:817.25px;font-size:18px;line-height:21.60px;font-weight:400;color:#777;">Alikulkusilta</div>
<div class="t" style="left:1040px;top:847.25px;font-size:18px;line-height:21.60px;font-weight:400;color:#777;">Ylikulkusilta</div>
<div class="t" style="left:1002px;top:747.25px;font-size:18px;line-height:21.60px;font-weight:700;color:#666;">1<span style="font-size:8px">kpl</span></div>
<div class="t" style="left:1004px;top:788.18px;font-size:17px;line-height:20.40px;font-weight:700;color:#666;">tsr</div>
<div class="t" style="left:1001px;top:818.18px;font-size:17px;line-height:20.40px;font-weight:700;color:#666;">aks</div>
<div class="t" style="left:1001px;top:848.18px;font-size:17px;line-height:20.40px;font-weight:700;color:#666;">yks</div>
<div class="t" style="left:1222px;top:656.5px;font-size:16.3px;line-height:19px;font-style:italic;color:#1a1a1a">Aikataulut ovat<br>tavoiteaikatauluja, mikäli<br>kohteiden rahoitus ja<br>hallinnolliset oikeudet (luvat,<br>suunnitelmat, maankäyttö)<br>mahdollistavat rakentamisen.<br><br>Vammalan ja Harjavallan<br>liikennepaikkojen tavoiteaikataulu<br>koskee pelkästään suunnittelua.<br>Rakentamisesta tehdään<br>päätökset erikseen.</div>
<div class="t" style="left:1484px;top:873.68px;font-size:12.7px;line-height:15.24px;font-weight:400;color:#222;font-style:italic;">Päivitetty 4/2026</div>
<div class="t" style="left:1525.5px;top:775.56px;font-size:8px;line-height:9.60px;font-weight:700;color:#222;">N</div>
<div class="t" style="left:36px;top:26.5px;font-size:43px;line-height:50px;font-weight:700;color:#0063ad;transform:scaleX(0.925);transform-origin:0 0;-webkit-text-stroke:0.3px currentColor;">TAMPERE</div>
<div class="t" style="left:240px;top:26.5px;font-size:43px;line-height:50px;font-weight:700;color:#0063ad;transform:scaleX(0.712);transform-origin:0 0;-webkit-text-stroke:0.3px currentColor;">—</div>
<div class="t" style="left:283.2px;top:26.5px;font-size:43px;line-height:50px;font-weight:700;color:#0063ad;transform:scaleX(0.878);transform-origin:0 0;-webkit-text-stroke:0.3px currentColor;">PORI</div>
<div class="t" style="left:387px;top:26.5px;font-size:43px;line-height:50px;font-weight:700;color:#0063ad;transform:scaleX(0.914);transform-origin:0 0;-webkit-text-stroke:0.3px currentColor;">TASORISTEYSTEN</div>
<div class="t" style="left:750.3px;top:26.5px;font-size:43px;line-height:50px;font-weight:700;color:#0063ad;transform:scaleX(0.909);transform-origin:0 0;-webkit-text-stroke:0.3px currentColor;">POISTO</div>
<div class="t" style="left:907.2px;top:26.5px;font-size:43px;line-height:50px;font-weight:700;color:#0063ad;transform:scaleX(0.774);transform-origin:0 0;-webkit-text-stroke:0.3px currentColor;">JA</div>
<div class="t" style="left:960.1px;top:26.5px;font-size:43px;line-height:50px;font-weight:700;color:#0063ad;transform:scaleX(0.958);transform-origin:0 0;-webkit-text-stroke:0.3px currentColor;">PARANTAMINEN</div>
<div class="t" style="left:36px;top:76.8px;font-size:33.6px;line-height:40px;color:#0063ad;letter-spacing:1.42px;-webkit-text-stroke:0;">Hallinnolliset suunnitelmat kartalla</div>
</body></html>
